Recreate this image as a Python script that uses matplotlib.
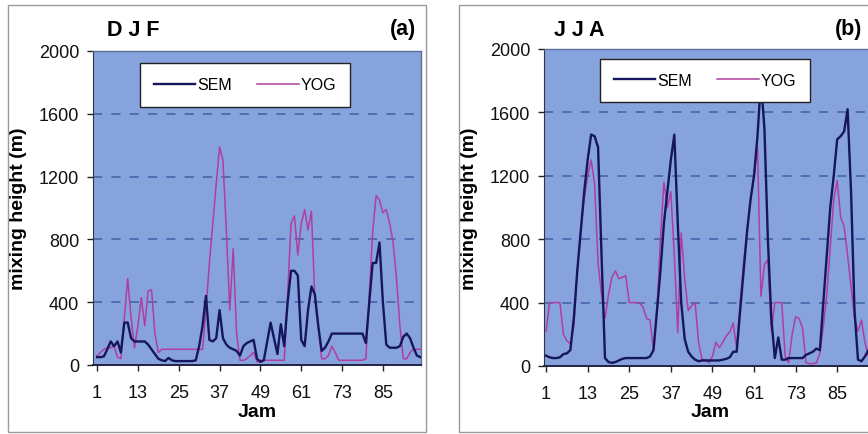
import numpy as np
import matplotlib
matplotlib.use("Agg")
import matplotlib.pyplot as plt
from matplotlib.patches import Rectangle

plt.rcParams['font.family'] = ['Liberation Sans', 'DejaVu Sans']

hours = np.arange(1, 97)

# DJF (a)
sem_djf = [50, 50, 55, 100, 150, 120, 150, 80, 270, 270,
           170, 150, 150, 150, 150, 130, 100, 70, 40, 30,
           25, 45, 30, 25, 25, 25, 25, 25, 25, 30,
           120, 250, 440, 160, 150, 170, 350, 170, 130, 110,
           100, 90, 60, 120, 140, 150, 160, 40, 20, 30,
           150, 270, 170, 70, 260, 120, 400, 600, 600, 570,
           160, 120, 350, 500, 450, 250, 90, 110, 150, 200,
           200, 200, 200, 200, 200, 200, 200, 200, 200, 140,
           400, 650, 650, 780, 400, 130, 110, 110, 110, 120,
           180, 200, 170, 110, 60, 50]
yog_djf = [60, 80, 100, 110, 110, 120, 50, 40, 300, 550,
           300, 110, 250, 430, 250, 470, 480, 200, 80, 100,
           100, 100, 100, 100, 100, 100, 100, 100, 100, 100,
           100, 100, 350, 650, 900, 1150, 1390, 1300, 850, 350,
           740, 200, 30, 30, 40, 60, 80, 20, 30, 30,
           30, 30, 30, 30, 30, 30, 450, 900, 950, 700,
           900, 990, 860, 980, 420, 250, 40, 40, 60, 120,
           80, 30, 30, 30, 30, 30, 30, 30, 30, 40,
           450, 850, 1080, 1050, 970, 990, 900, 780, 550, 250,
           40, 40, 80, 100, 100, 100]

# JJA (b)
sem_jja = [65, 55, 50, 50, 55, 75, 80, 100, 300, 600,
           850, 1100, 1300, 1460, 1450, 1380, 700, 50, 25, 20,
           25, 35, 45, 50, 50, 50, 50, 50, 50, 50,
           60, 100, 350, 600, 900, 1100, 1300, 1460, 900, 400,
           170, 90, 60, 40, 30, 35, 35, 35, 35, 35,
           35, 40, 45, 55, 90, 90, 350, 600, 850, 1050,
           1200, 1450, 1800, 1500, 800, 300, 50, 180, 40, 40,
           50, 50, 50, 50, 50, 70, 80, 90, 110, 100,
           400, 700, 1000, 1200, 1430, 1450, 1480, 1620, 1100, 350,
           40, 30, 60, 100, 100, 100]
yog_jja = [220, 400, 400, 400, 400, 200, 160, 140, 250, 600,
           850, 1050, 1200, 1300, 1150, 650, 450, 300, 450, 560,
           600, 550, 560, 570, 400, 400, 400, 400, 370, 300,
           290, 100, 350, 800, 1160, 1000, 1100, 700, 210, 840,
           550, 350, 380, 400, 150, 40, 40, 20, 60, 150,
           115, 150, 190, 215, 270, 110, 400, 650, 850, 1050,
           1200, 1380, 440, 640, 670, 220, 400, 400, 400, 60,
           20, 200, 310, 300, 240, 20, 15, 15, 20, 80,
           250, 450, 750, 1050, 1170, 940, 880, 700, 500, 300,
           220, 290, 150, 60, 60, 60]

x_ticks = [1, 13, 25, 37, 49, 61, 73, 85]
y_ticks = [0, 400, 800, 1200, 1600, 2000]

bg = '#87a3de'
sem_color = '#15165e'
yog_color = '#b03ea0'

fig = plt.figure(figsize=(8.68, 4.35), dpi=100)
W, H = 868, 435

# grey frames round each panel (right one runs off the picture, as in the scan)
for x0, x1 in [(8, 426), (459, 880)]:
    fig.patches.append(Rectangle((x0 / W, 1 - 433 / H), (x1 - x0) / W, (433 - 6) / H,
                                 transform=fig.transFigure, fill=False,
                                 edgecolor='#9a9a9a', linewidth=1.0))

panels = [
    dict(rect=[93 / W, 1 - 366 / H, (421 - 93) / W, (366 - 52) / H], xlim=(-0.2, 96.2),
         sem=sem_djf, yog=yog_djf, title='D J F', tx=107, tag='(a)', tagx=416,
         ylx=27, leg=(150, 63, 340, 109)),
    dict(rect=[544 / W, 1 - 367 / H, (876 - 544) / W, (367 - 50) / H], xlim=(0.4, 96.2),
         sem=sem_jja, yog=yog_jja, title='J J A', tx=554, tag='(b)', tagx=862,
         ylx=478, leg=(604, 60, 806, 103)),
]

for p in panels:
    ax = fig.add_axes(p['rect'])
    ax.set_facecolor(bg)
    ax.plot(hours, p['yog'], color=yog_color, lw=1.1, zorder=3)
    ax.plot(hours, p['sem'], color=sem_color, lw=1.7, zorder=4)
    ax.set_xlim(*p['xlim'])
    ax.set_ylim(0, 2000)
    ax.set_xticks(x_ticks)
    ax.set_yticks(y_ticks)
    ax.tick_params(axis='both', labelsize=13, direction='out', length=4, width=1,
                   colors='#222222', labelcolor='#111111')
    ax.tick_params(axis='x', pad=10)
    ax.tick_params(axis='y', pad=6)
    for yv in y_ticks[1:-1]:
        ax.axhline(yv, color='#3f5fa6', lw=1.1, ls=(0, (6, 6)), zorder=2)
    for s in ['top', 'right']:
        ax.spines[s].set_color('#5a6f9a')
        ax.spines[s].set_linewidth(1.0)
    ax.spines['left'].set_color('#333344')
    ax.spines['bottom'].set_color('#222244')
    ax.spines['bottom'].set_linewidth(1.4)

    ax.set_xlabel('Jam', fontsize=14, fontweight='bold')
    ax.xaxis.set_label_coords(0.5, -(413 - (H - p['rect'][1] * H)) / (p['rect'][3] * H))
    ax.xaxis.label.set_va('center')
    ax.set_ylabel('mixing height (m)', fontsize=14, fontweight='bold')
    ax.yaxis.set_label_coords((p['ylx'] - p['rect'][0] * W) / (p['rect'][2] * W), 0.5)

    lx0, ly0, lx1, ly1 = p['leg']
    h_sem, = ax.plot([], [], color=sem_color, lw=1.7)
    h_yog, = ax.plot([], [], color=yog_color, lw=1.1)
    leg = fig.legend([h_sem, h_yog], ['SEM', 'YOG'], ncol=2, fontsize=11.5,
                     loc='center', bbox_to_anchor=((lx0 + lx1) / 2 / W, 1 - (ly0 + ly1) / 2 / H),
                     frameon=True, fancybox=False, edgecolor='#222222', framealpha=1,
                     handlelength=2.6, handletextpad=0.1, columnspacing=1.6,
                     borderpad=0.9)
    leg.get_frame().set_linewidth(1.0)

    fig.text(p['tx'] / W, 1 - 30 / H, p['title'], fontsize=15.5, fontweight='bold',
             ha='left', va='center')
    fig.text(p['tagx'] / W, 1 - 30 / H, p['tag'], fontsize=15.5, fontweight='bold',
             ha='right', va='center')

fig.savefig('out.png', dpi=100, facecolor='white')
